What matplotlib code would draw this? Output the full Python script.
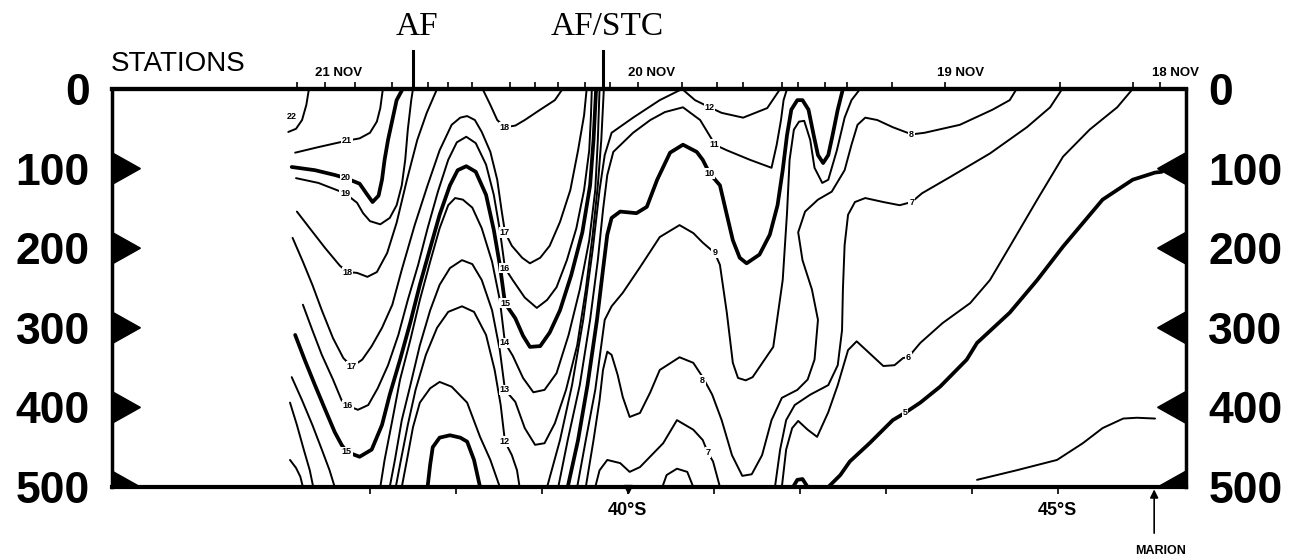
import matplotlib
matplotlib.use('Agg')
import matplotlib.pyplot as plt

plt.rcParams['font.family'] = ['Liberation Sans', 'DejaVu Sans']

# Isotherms (deg C): (latitude S, depth m)
iso22 = [(36.29, 0), (36.26, 20), (36.21, 39), (36.14, 50), (36.05, 54)]
iso21 = [(36.13, 80), (36.40, 73), (36.73, 65), (36.88, 62), (37.00, 55), (37.08, 41),
         (37.12, 24), (37.14, 8), (37.15, 0)]
iso20 = [(36.09, 98), (36.36, 102), (36.59, 108), (36.72, 112), (36.88, 119), (36.97, 133),
         (37.03, 142), (37.10, 134), (37.14, 114), (37.17, 89), (37.21, 64), (37.26, 39),
         (37.31, 14), (37.38, 0)]
iso19 = [(36.14, 112), (36.40, 118), (36.71, 131), (36.85, 143), (36.92, 156), (37.00, 166),
         (37.12, 170), (37.23, 162), (37.31, 146), (37.37, 121), (37.41, 89), (37.44, 51),
         (37.48, 14), (37.50, 0)]
iso18_w = [(36.15, 154), (36.30, 175), (36.48, 200), (36.65, 222), (36.74, 230), (36.85, 231),
           (36.97, 236), (37.08, 230), (37.20, 206), (37.31, 168), (37.43, 114), (37.55, 64),
           (37.66, 30), (37.78, 0)]
iso18_e = [(38.31, 0), (38.40, 20), (38.48, 39), (38.57, 48), (38.69, 46), (38.80, 39),
           (38.98, 26), (39.15, 14), (39.24, 0)]
iso17 = [(36.10, 187), (36.22, 217), (36.33, 246), (36.44, 278), (36.57, 313), (36.69, 338),
         (36.79, 349), (36.91, 340), (37.02, 323), (37.14, 300), (37.26, 271), (37.37, 227),
         (37.52, 171), (37.67, 121), (37.81, 77), (37.95, 45), (38.05, 36), (38.13, 34),
         (38.22, 39), (38.30, 54), (38.40, 79), (38.48, 114), (38.53, 152), (38.57, 180),
         (38.65, 197), (38.77, 212), (38.86, 219), (38.98, 212), (39.09, 197), (39.21, 167),
         (39.33, 127), (39.42, 77), (39.49, 33), (39.52, 0)]
iso16 = [(36.22, 271), (36.33, 303), (36.44, 334), (36.57, 365), (36.67, 391), (36.74, 398),
         (36.86, 403), (36.98, 397), (37.09, 376), (37.21, 347), (37.33, 309), (37.44, 265),
         (37.56, 221), (37.67, 175), (37.79, 129), (37.91, 89), (38.01, 67), (38.12, 60),
         (38.23, 68), (38.35, 95), (38.44, 133), (38.51, 177), (38.57, 225), (38.66, 240),
         (38.80, 262), (38.94, 275), (39.06, 265), (39.17, 249), (39.29, 215), (39.40, 175),
         (39.49, 127), (39.55, 77), (39.57, 33), (39.58, 0)]
iso15 = [(36.13, 309), (36.24, 340), (36.36, 372), (36.48, 403), (36.59, 431), (36.67, 447),
         (36.73, 456), (36.88, 462), (37.02, 453), (37.14, 422), (37.23, 384), (37.35, 340),
         (37.47, 293), (37.58, 246), (37.70, 200), (37.81, 158), (37.93, 121), (38.02, 102),
         (38.12, 97), (38.23, 104), (38.35, 133), (38.44, 177), (38.51, 221), (38.57, 269),
         (38.69, 288), (38.78, 310), (38.86, 324), (38.98, 323), (39.09, 306), (39.21, 278),
         (39.34, 234), (39.47, 180), (39.56, 121), (39.60, 64), (39.63, 0)]
iso14 = [(37.12, 500), (37.17, 466), (37.26, 416), (37.35, 365), (37.47, 315), (37.58, 265),
         (37.70, 217), (37.81, 175), (37.91, 146), (37.99, 137), (38.08, 139), (38.19, 149),
         (38.30, 175), (38.42, 217), (38.51, 265), (38.57, 319), (38.66, 335), (38.78, 363),
         (38.90, 381), (39.03, 378), (39.17, 357), (39.31, 309), (39.44, 252), (39.55, 190),
         (39.62, 127), (39.65, 64), (39.67, 0)]
iso13 = [(37.23, 500), (37.29, 466), (37.37, 416), (37.47, 372), (37.58, 322), (37.70, 278),
         (37.81, 246), (37.93, 225), (38.07, 215), (38.19, 220), (38.30, 240), (38.42, 278),
         (38.51, 328), (38.57, 378), (38.69, 393), (38.80, 426), (38.92, 447), (39.03, 445),
         (39.15, 420), (39.28, 378), (39.41, 322), (39.51, 252), (39.59, 183), (39.65, 121),
         (39.69, 64), (39.72, 0)]
iso12_w = [(37.30, 500), (37.36, 466), (37.44, 422), (37.53, 378), (37.65, 334), (37.78, 300),
           (37.91, 280), (38.07, 273), (38.21, 280), (38.35, 309), (38.45, 353), (38.52, 397),
           (38.57, 443), (38.65, 460), (38.71, 479), (38.74, 500)]
iso12_e = [(39.06, 500), (39.21, 441), (39.35, 372), (39.48, 290), (39.59, 202), (39.67, 127),
           (39.73, 83), (39.81, 55), (40.06, 36), (40.37, 14), (40.63, 0), (40.78, 14),
           (40.95, 23), (41.09, 30), (41.34, 36), (41.62, 24), (41.77, 0)]
arch_11 = [(37.37, 500), (37.43, 466), (37.50, 425), (37.58, 394), (37.70, 376), (37.81, 368),
           (37.95, 374), (38.13, 394), (38.28, 437), (38.40, 466), (38.51, 500)]
arch_10 = [(37.67, 500), (37.70, 472), (37.73, 450), (37.81, 438), (37.93, 435), (38.05, 438),
           (38.13, 443), (38.21, 466), (38.28, 500)]
west_a = [(36.09, 362), (36.21, 391), (36.33, 422), (36.44, 453), (36.53, 479), (36.59, 500)]
west_b = [(36.07, 394), (36.15, 422), (36.23, 453), (36.30, 479), (36.34, 500)]
west_c = [(36.07, 466), (36.14, 476), (36.19, 487), (36.22, 500)]
iso11 = [(39.19, 500), (39.30, 441), (39.44, 372), (39.56, 290), (39.65, 215), (39.71, 152),
         (39.76, 108), (39.83, 79), (40.06, 55), (40.26, 39), (40.43, 29), (40.64, 23),
         (40.84, 39), (40.98, 64), (41.01, 70), (41.15, 77), (41.42, 89), (41.67, 99),
         (41.73, 70), (41.78, 39), (41.81, 14), (41.85, 0)]
iso10 = [(39.30, 500), (39.42, 441), (39.53, 372), (39.64, 290), (39.71, 227), (39.76, 183),
         (39.81, 162), (39.91, 154), (40.10, 156), (40.22, 148), (40.34, 114), (40.49, 80),
         (40.64, 70), (40.80, 79), (40.87, 89), (40.95, 106), (41.07, 121), (41.15, 158),
         (41.22, 190), (41.30, 212), (41.38, 219), (41.53, 208), (41.65, 183), (41.74, 146),
         (41.80, 102), (41.85, 58), (41.90, 26), (41.97, 14), (42.03, 14), (42.10, 26),
         (42.16, 58), (42.21, 83), (42.27, 93), (42.33, 83), (42.38, 58), (42.44, 26), (42.50, 0)]
iso9 = [(39.41, 500), (39.51, 441), (39.62, 378), (39.69, 322), (39.73, 290), (39.81, 273),
        (39.94, 256), (40.14, 224), (40.37, 186), (40.60, 171), (40.76, 181), (40.87, 193),
        (41.01, 206), (41.07, 221), (41.15, 281), (41.22, 344), (41.28, 363), (41.37, 366),
        (41.45, 362), (41.69, 324), (41.80, 240), (41.85, 156), (41.88, 89), (41.93, 51),
        (41.99, 41), (42.05, 40), (42.12, 64), (42.17, 99), (42.26, 118), (42.33, 114),
        (42.43, 77), (42.52, 36), (42.60, 14), (42.70, 0)]
iso8 = [(39.51, 500), (39.60, 441), (39.67, 391), (39.71, 353), (39.76, 330), (39.81, 334),
        (39.88, 359), (39.94, 387), (40.02, 412), (40.14, 407), (40.26, 381), (40.37, 353),
        (40.60, 337), (40.76, 344), (40.87, 362), (40.98, 384), (41.09, 416), (41.21, 460),
        (41.33, 486), (41.44, 484), (41.56, 460), (41.67, 416), (41.79, 388), (41.97, 378),
        (42.09, 365), (42.17, 340), (42.21, 290), (42.14, 252), (42.03, 215), (41.98, 180),
        (42.06, 154), (42.21, 139), (42.37, 129), (42.52, 102), (42.60, 70), (42.67, 45),
        (42.76, 36), (42.90, 39), (43.08, 48), (43.30, 57), (43.45, 55), (43.86, 45),
        (44.24, 26), (44.44, 14), (44.52, 0)]
iso7_w = [(39.62, 500), (39.67, 479), (39.76, 466), (39.91, 470), (40.02, 481), (40.14, 475),
          (40.41, 445), (40.57, 416), (40.76, 428), (40.87, 441), (40.93, 457), (40.99, 468),
          (41.07, 500)]
iso7_e = [(41.71, 500), (41.77, 453), (41.84, 416), (41.94, 397), (42.12, 384), (42.33, 372),
          (42.44, 347), (42.49, 303), (42.50, 252), (42.52, 196), (42.56, 158), (42.64, 142),
          (42.76, 137), (42.97, 142), (43.16, 146), (43.30, 142), (43.42, 131), (43.74, 111),
          (44.21, 81), (44.64, 48), (44.91, 23), (45.05, 0)]
iso6 = [(41.79, 500), (41.84, 453), (41.91, 426), (41.98, 417), (42.09, 428), (42.20, 437),
        (42.33, 406), (42.44, 372), (42.56, 328), (42.66, 317), (42.79, 330), (42.97, 348),
        (43.10, 347), (43.20, 338), (43.26, 337), (43.40, 319), (43.66, 294), (43.98, 269),
        (44.21, 240), (44.44, 198), (44.76, 139), (45.06, 85), (45.37, 51), (45.69, 23),
        (45.87, 0)]
iso5 = [(42.33, 500), (42.47, 485), (42.58, 468), (42.81, 445), (43.08, 416), (43.22, 407),
        (43.40, 394), (43.63, 374), (43.94, 340), (44.06, 319), (44.44, 281), (44.76, 240),
        (45.06, 198), (45.52, 139), (45.87, 114), (46.13, 105), (46.21, 104)]
iso4 = [(44.06, 491), (44.52, 479), (44.99, 466), (45.29, 445), (45.52, 426), (45.76, 414),
        (45.92, 413), (46.13, 414)]
bump_7 = [(40.40, 500), (40.45, 485), (40.57, 477), (40.69, 481), (40.76, 500)]
bump_6 = [(41.92, 500), (41.97, 491), (42.03, 490), (42.09, 500)]

thin_lines = [iso22, iso21, iso19, iso18_w, iso18_e, iso17, iso16, iso14, iso13, iso12_w,
              iso12_e, arch_11, west_a, west_b, west_c, iso11, iso9, iso8, iso7_w, iso7_e,
              iso6, iso4, bump_7]
thick_lines = [iso20, iso15, arch_10, iso10, iso5, bump_6]

# contour labels: (text, lat, depth)
labels = [('22', 36.09, 34), ('21', 36.73, 65), ('20', 36.72, 111), ('19', 36.71, 131),
          ('18', 36.74, 230), ('17', 36.79, 349), ('16', 36.74, 398), ('15', 36.73, 456),
          ('18', 38.57, 48), ('17', 38.57, 180), ('16', 38.57, 225), ('15', 38.57, 269),
          ('14', 38.57, 319), ('13', 38.57, 378), ('12', 38.57, 443), ('12', 40.95, 23),
          ('11', 41.01, 70), ('10', 40.95, 106), ('9', 41.01, 206), ('8', 40.87, 366),
          ('7', 40.93, 457), ('8', 43.30, 57), ('7', 43.30, 142), ('6', 43.26, 337),
          ('5', 43.22, 407)]

stations = [36.15, 36.48, 36.83, 37.26, 37.67, 37.91, 38.19, 38.63, 38.92, 39.19, 39.50,
            39.79, 40.12, 40.63, 41.03, 41.34, 41.79, 41.98, 42.29, 42.55, 43.07, 43.69,
            45.02, 45.87, 46.19]
dates = ['21 NOV', '20 NOV', '19 NOV', '18 NOV']
date_lat = [36.64, 40.28, 43.87, 46.37]
fronts = ['AF', 'AF/STC']
front_lat = [37.50, 39.71]
lat_ticks = [37, 38, 39, 40, 41, 42, 43, 44, 45]
lat_labels = ['', '', '', '40°S', '', '', '', '', '45°S']
depth_ticks = [0, 100, 200, 300, 400, 500]
marion_lat = 46.12

fig = plt.figure(figsize=(13.04, 5.59), dpi=100)
ax = fig.add_axes([0.0859, 0.1288, 0.8236, 0.712])
ax.set_xlim(34.0, 46.49)
ax.set_ylim(500, 0)

for line in thin_lines:
    xs, ys = zip(*line)
    ax.plot(xs, ys, color='black', lw=1.4, solid_joinstyle='round', solid_capstyle='round')
for line in thick_lines:
    xs, ys = zip(*line)
    ax.plot(xs, ys, color='black', lw=2.7, solid_joinstyle='round', solid_capstyle='round')

for t, x, y in labels:
    ax.text(x, y, t, fontsize=6.5, fontweight='bold', ha='center', va='center', zorder=5,
            bbox=dict(fc='white', ec='none', pad=0.6))

# depth axis on both sides
ax.set_yticks(depth_ticks)
ax.set_yticklabels([str(d) for d in depth_ticks])
ax.tick_params(axis='y', length=0, labelsize=32, labelleft=True, labelright=True, pad=16)
for tk in ax.yaxis.get_major_ticks():
    tk.label1.set_fontweight('bold')
    tk.label2.set_fontweight('bold')

# triangles marking the depth ticks
x0, x1 = ax.get_xlim()
tri_w, tri_h = 0.33, 20
for d in depth_ticks[1:-1]:
    ax.fill([x0, x0 + tri_w, x0], [d - tri_h, d, d + tri_h], color='black', clip_on=False, zorder=6)
    ax.fill([x1, x1 - tri_w, x1], [d - tri_h, d, d + tri_h], color='black', clip_on=False, zorder=6)
ax.fill([x0, x0 + tri_w, x0], [500 - tri_h, 500, 500], color='black', clip_on=False, zorder=6)
ax.fill([x1, x1 - tri_w, x1], [500 - tri_h, 500, 500], color='black', clip_on=False, zorder=6)

# latitude axis at the bottom
ax.set_xticks(lat_ticks)
ax.set_xticklabels(lat_labels)
ax.tick_params(axis='x', direction='out', length=5, width=1.2, labelsize=13, pad=6)
for tk in ax.xaxis.get_major_ticks():
    tk.label1.set_fontweight('bold')
ax.plot(40, 503, marker='v', ms=6, color='black', clip_on=False)

# station ticks along the top
sec = ax.secondary_xaxis('top')
sec.set_xticks(stations)
sec.set_xticklabels([])
sec.tick_params(axis='x', direction='out', length=5, width=1.2)
sec.spines['top'].set_linewidth(3)

for s in ['left', 'right']:
    ax.spines[s].set_linewidth(2.5)
for s in ['top', 'bottom']:
    ax.spines[s].set_linewidth(3)

for d, x in zip(dates, date_lat):
    ax.text(x, -20, d, fontsize=9.5, fontweight='bold', ha='center', va='center')
ax.text(33.98, -31, 'STATIONS', fontsize=20, ha='left', va='center')

for f, x in zip(fronts, front_lat):
    ax.plot([x, x], [-2, -48], color='black', lw=2.2, clip_on=False)
    ax.text(x + 0.05, -78, f, fontsize=24, family='Liberation Serif', ha='center', va='center')

ax.annotate('', xy=(marion_lat, 503), xytext=(marion_lat, 558), annotation_clip=False,
            arrowprops=dict(arrowstyle='-|>', color='black', lw=1.2, mutation_scale=12,
                            shrinkA=0, shrinkB=0))
ax.text(marion_lat + 0.08, 580, 'MARION', fontsize=9, fontweight='bold', ha='center', va='center')

fig.savefig('out.png', dpi=100)
